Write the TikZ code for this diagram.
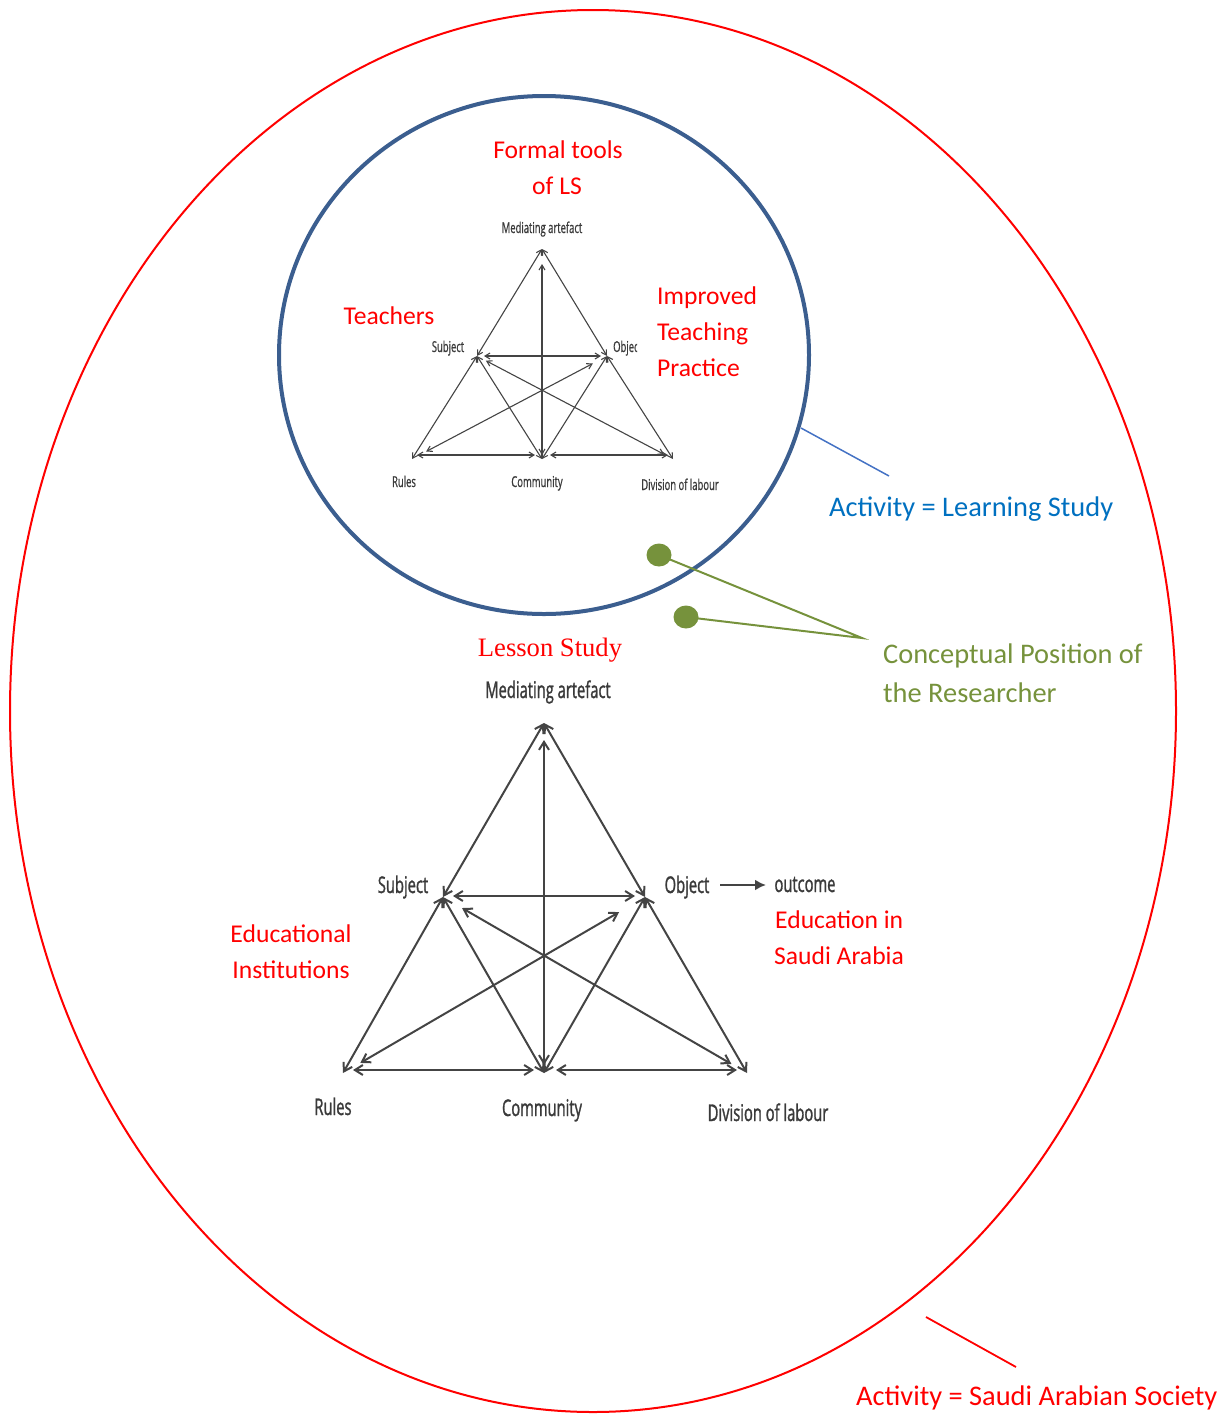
\documentclass[tikz,border=0pt]{standalone}
\usepackage{fontspec}
\setmainfont{Carlito}
\newfontfamily\condfont[FakeStretch=0.64,FakeBold=1.2]{Open Sans}
\newfontfamily\condsmall[FakeStretch=0.63,FakeBold=0.8]{Open Sans}
\newfontfamily\timesfont{Liberation Serif}
\usetikzlibrary{arrows.meta,shapes.geometric}
\definecolor{ringblue}{RGB}{59,94,143}
\definecolor{textblue}{RGB}{0,112,192}
\definecolor{lineblue}{RGB}{68,114,196}
\definecolor{olive}{RGB}{118,146,60}
\definecolor{trigray}{RGB}{68,68,68}
\definecolor{labgray}{RGB}{58,58,58}
\tikzset{
  redlab/.style={text=red, font=\fontsize{25.6}{30}\selectfont, inner sep=0pt},
  biglab/.style={font=\fontsize{28.4}{33}\selectfont, inner sep=0pt},
  smalltri/.style={draw=trigray, line width=1.1pt,
    {Straight Barb[length=5pt,width=6pt]}-{Straight Barb[length=5pt,width=6pt]}},
  bigtri/.style={draw=trigray, line width=2pt,
    {Straight Barb[length=8pt,width=10pt]}-{Straight Barb[length=8pt,width=10pt]}},
  smalllab/.style={text=labgray, font=\condsmall\fontsize{15}{17}\selectfont, inner sep=0pt, anchor=base},
  biglabtri/.style={text=labgray, font=\condfont\fontsize{23}{26}\selectfont, inner sep=0pt, anchor=base},
  dot/.style={ellipse, fill=olive, minimum width=25pt, minimum height=23pt, inner sep=0pt}
}
\begin{document}
\begin{tikzpicture}[x=1pt,y=-1pt]
\useasboundingbox (0,0) rectangle (1226,1414);
% outer ellipse and inner circle
\draw[red, line width=2pt] (593,711) ellipse [x radius=583, y radius=701];
\draw[ringblue, line width=4pt] (544,355) ellipse [x radius=265, y radius=259];

% ---------- small triangle ----------
\coordinate (sA) at (542,249);
\coordinate (sS) at (477,356);
\coordinate (sO) at (607,356);
\coordinate (sR) at (412,459);
\coordinate (sC) at (542,459);
\coordinate (sD) at (673,459);
\draw[smalltri] (sA) -- (sS);
\draw[smalltri] (sA) -- (sO);
\draw[smalltri, shorten <=15pt, shorten >=4pt] (sA) -- (sC);
\draw[smalltri, shorten <=7pt, shorten >=6pt] (sS) -- (sO);
\draw[smalltri] (sS) -- (sR);
\draw[smalltri] (sS) -- (sC);
\draw[smalltri, shorten <=10pt, shorten >=10pt] (sS) -- (sD);
\draw[smalltri] (sO) -- (sC);
\draw[smalltri] (sO) -- (sD);
\draw[smalltri, shorten <=16pt, shorten >=16pt] (sO) -- (sR);
\draw[smalltri, shorten <=5pt, shorten >=7pt] ([yshift=4]sR) -- ([yshift=4]sC);
\draw[smalltri, shorten <=8pt, shorten >=5pt] ([yshift=4]sC) -- ([yshift=4]sD);

\node[smalllab] (smA) at (542,233) {Mediating artefact};
\node[smalllab] (smS) at (448,352) {Subject};
\begin{scope}
\clip (600,330) rectangle (637,362);
\node[smalllab, anchor=base west] (smO) at (613,352) {Object};
\end{scope}
\node[smalllab] (smR) at (404,487) {Rules};
\node[smalllab] (smC) at (537,487) {Community};
\node[smalllab] (smD) at (680,490) {Division of labour};

% ---------- large triangle ----------
\coordinate (bA) at (544,723);
\coordinate (bS) at (443,897);
\coordinate (bO) at (645,897);
\coordinate (bR) at (343,1073);
\coordinate (bC) at (544,1073);
\coordinate (bD) at (747,1073);
\draw[bigtri] (bA) -- (bS);
\draw[bigtri] (bA) -- (bO);
\draw[bigtri, shorten <=17pt, shorten >=8pt] (bA) -- (bC);
\draw[bigtri, shorten <=10pt, shorten >=10pt] ([yshift=1]bS) -- ([yshift=1]bO);
\draw[bigtri] (bS) -- (bR);
\draw[bigtri] (bS) -- (bC);
\draw[bigtri, shorten <=22pt, shorten >=18pt] (bS) -- (bD);
\draw[bigtri] (bO) -- (bC);
\draw[bigtri] (bO) -- (bD);
\draw[bigtri, shorten <=30pt, shorten >=20pt] (bO) -- (bR);
\draw[bigtri, shorten <=10pt, shorten >=10pt] ([yshift=3]bR) -- ([yshift=3]bC);
\draw[bigtri, shorten <=12pt, shorten >=10pt] ([yshift=3]bC) -- ([yshift=3]bD);

\node[biglabtri] (bmA) at (548,698) {Mediating artefact};
\node[biglabtri] (bmS) at (403,893) {Subject};
\node[biglabtri] (bmO) at (687,893) {Object};
\node[biglabtri] (bmOut) at (805,892) {outcome};
\node[biglabtri] (bmR) at (333,1115) {Rules};
\node[biglabtri] (bmC) at (542,1116) {Community};
\node[biglabtri] (bmD) at (768,1121) {Division of labour};
\coordinate (outA) at (720,885);
\coordinate (outB) at (766,885);
\draw[trigray, line width=2.2pt, -{Latex[length=11pt,width=11pt]}] (outA) -- (outB);

% ---------- red labels ----------
\node[redlab, anchor=base] (ft1) at (558,158.5) {Formal tools};
\node[redlab, anchor=base] (ft2) at (557,194.5) {of LS};
\node[redlab, anchor=base] (tea) at (389,324.5) {Teachers};
\node[redlab, anchor=base west] (im1) at (657,304.5) {Improved};
\node[redlab, anchor=base west] (im2) at (657,340.5) {Teaching};
\node[redlab, anchor=base west] (im3) at (657,376.5) {Practice};
\node[redlab, anchor=base] (ei1) at (291,942.5) {Educational};
\node[redlab, anchor=base] (ei2) at (291,978.5) {Institutions};
\node[redlab, anchor=base west] (es1) at (775,928.5) {Education in};
\node[redlab, anchor=base west] (es2) at (774,964.5) {Saudi Arabia};
\node[text=red, font=\timesfont\fontsize{26.6}{30}\selectfont, inner sep=0pt, anchor=base] (ls) at (550,656) {Lesson Study};

% ---------- activity labels ----------
\node[biglab, text=textblue, anchor=base west] (actLS) at (829,516) {Activity = Learning Study};
\coordinate (lsA) at (801,428);
\coordinate (lsB) at (889,476);
\draw[lineblue, line width=1.5pt] (lsA) -- (lsB);

\node[biglab, text=red, anchor=base west] (actSA) at (856,1405) {Activity = Saudi Arabian Society};
\coordinate (saA) at (926,1317);
\coordinate (saB) at (1016,1367);
\draw[red, line width=1.8pt] (saA) -- (saB);

% ---------- conceptual position ----------
\node[dot] (g1) at (659,555) {};
\node[dot] (g2) at (686,617) {};
\coordinate (gm) at (862,638);
\draw[olive, line width=2pt] (g1.center) -- (gm) -- (g2.center);
\node[biglab, text=olive, anchor=base west] (cp1) at (883,663) {Conceptual Position of};
\node[biglab, text=olive, anchor=base west] (cp2) at (883,702) {the Researcher};
\end{tikzpicture}
\end{document}
